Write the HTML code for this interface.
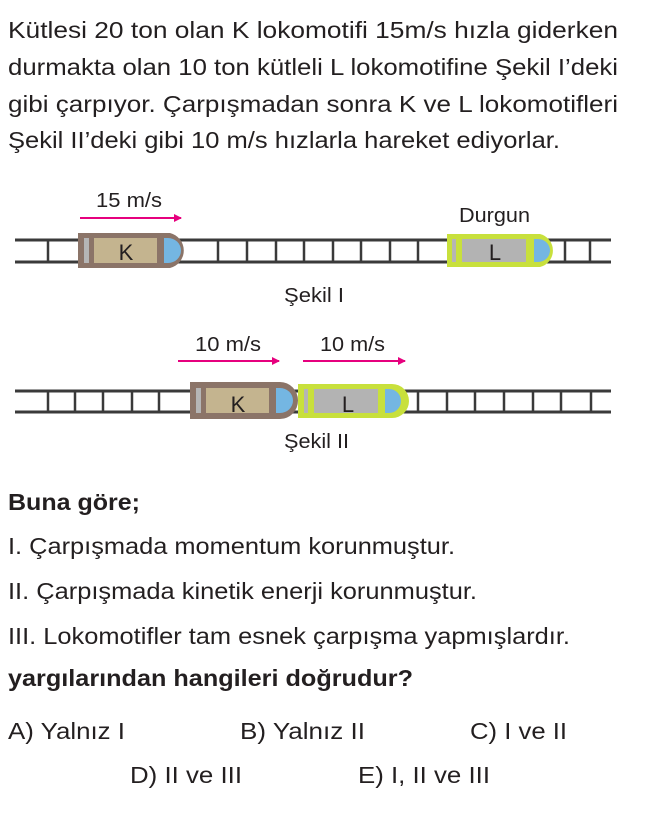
<!DOCTYPE html>
<html><head><meta charset="utf-8"><style>
html,body{margin:0;padding:0;background:#fff;}
svg{display:block}
text{font-family:"Liberation Sans",Arial,sans-serif;fill:#231f20;}
</style></head><body>
<svg width="654" height="815" viewBox="0 0 654 815" xmlns="http://www.w3.org/2000/svg">
<defs>
<marker id="ar" markerWidth="8" markerHeight="8" refX="7" refY="4" orient="auto" markerUnits="userSpaceOnUse">
<path d="M0,0 L8,4 L0,8 Z" fill="#e6007e"/></marker>
</defs>
<g font-size="23">
<text x="8" y="38" textLength="610" lengthAdjust="spacingAndGlyphs">Kütlesi 20 ton olan K lokomotifi 15m/s hızla giderken</text>
<text x="8" y="75" textLength="610" lengthAdjust="spacingAndGlyphs">durmakta olan 10 ton kütleli L lokomotifine Şekil I’deki</text>
<text x="8" y="112" textLength="610" lengthAdjust="spacingAndGlyphs">gibi çarpıyor. Çarpışmadan sonra K ve L lokomotifleri</text>
<text x="8" y="148" textLength="552" lengthAdjust="spacingAndGlyphs">Şekil II’deki gibi 10 m/s hızlarla hareket ediyorlar.</text>
</g>

<g stroke="#3a3a3a" stroke-width="3">
<line x1="15" y1="240" x2="611" y2="240"/><line x1="15" y1="262" x2="611" y2="262"/>
</g>
<g stroke="#3a3a3a" stroke-width="2.5">
<line x1="48" y1="240" x2="48" y2="262"/>
<line x1="218" y1="240" x2="218" y2="262"/><line x1="247" y1="240" x2="247" y2="262"/>
<line x1="276" y1="240" x2="276" y2="262"/><line x1="304" y1="240" x2="304" y2="262"/>
<line x1="333" y1="240" x2="333" y2="262"/><line x1="361" y1="240" x2="361" y2="262"/>
<line x1="390" y1="240" x2="390" y2="262"/><line x1="418" y1="240" x2="418" y2="262"/>
<line x1="565" y1="240" x2="565" y2="262"/><line x1="590" y1="240" x2="590" y2="262"/>
</g>
<path d="M78,233 H170 A18,18 0 0 1 170,268 H78 Z" fill="#8b7468"/>
<rect x="84" y="238" width="5" height="25" fill="#b5b5b5"/>
<rect x="94" y="238" width="63" height="25" fill="#c4b48f"/>
<path d="M164,238 H168 A13,12.5 0 0 1 168,263 H164 Z" fill="#74b6e2"/>
<text x="126" y="260" font-size="22" text-anchor="middle">K</text>
<path d="M447,234 H540 A17,17 0 0 1 540,267 H447 Z" fill="#c8e03c"/>
<rect x="452" y="239" width="4" height="23" fill="#b5b5b5"/>
<rect x="462" y="239" width="64" height="23" fill="#b3b3b3"/>
<path d="M534,239 H538 A12,11.5 0 0 1 538,262 H534 Z" fill="#74b6e2"/>
<text x="495" y="260" font-size="22" text-anchor="middle">L</text>
<line x1="80" y1="218" x2="181" y2="218" stroke="#e6007e" stroke-width="2" marker-end="url(#ar)"/>
<text x="96" y="207" font-size="20" textLength="66" lengthAdjust="spacingAndGlyphs">15 m/s</text>
<text x="459" y="222" font-size="20" textLength="71" lengthAdjust="spacingAndGlyphs">Durgun</text>
<text x="284" y="302" font-size="20" textLength="60" lengthAdjust="spacingAndGlyphs">Şekil I</text>

<g stroke="#3a3a3a" stroke-width="3">
<line x1="15" y1="391" x2="611" y2="391"/><line x1="15" y1="412" x2="611" y2="412"/>
</g>
<g stroke="#3a3a3a" stroke-width="2.5">
<line x1="48" y1="391" x2="48" y2="412"/><line x1="75" y1="391" x2="75" y2="412"/>
<line x1="103" y1="391" x2="103" y2="412"/><line x1="132" y1="391" x2="132" y2="412"/>
<line x1="159" y1="391" x2="159" y2="412"/>
<line x1="418" y1="391" x2="418" y2="412"/><line x1="447" y1="391" x2="447" y2="412"/>
<line x1="475" y1="391" x2="475" y2="412"/><line x1="504" y1="391" x2="504" y2="412"/>
<line x1="533" y1="391" x2="533" y2="412"/><line x1="561" y1="391" x2="561" y2="412"/>
<line x1="591" y1="391" x2="591" y2="412"/>
</g>
<path d="M190,382 H280 A18,18.5 0 0 1 280,419 H190 Z" fill="#8b7468"/>
<rect x="196" y="388" width="5" height="25" fill="#b5b5b5"/>
<rect x="206" y="388" width="63" height="25" fill="#c4b48f"/>
<path d="M276,388 H280 A13,12.5 0 0 1 280,413 H276 Z" fill="#74b6e2"/>
<text x="238" y="412" font-size="22" text-anchor="middle">K</text>
<path d="M298,384 H392 A17,17 0 0 1 392,418 H298 Z" fill="#c8e03c"/>
<rect x="304" y="389" width="4" height="24" fill="#b5b5b5"/>
<rect x="314" y="389" width="64" height="24" fill="#b3b3b3"/>
<path d="M385,389 H389 A12,12 0 0 1 389,413 H385 Z" fill="#74b6e2"/>
<text x="348" y="412" font-size="22" text-anchor="middle">L</text>
<line x1="178" y1="361" x2="279" y2="361" stroke="#e6007e" stroke-width="2" marker-end="url(#ar)"/>
<line x1="303" y1="361" x2="405" y2="361" stroke="#e6007e" stroke-width="2" marker-end="url(#ar)"/>
<text x="195" y="351" font-size="20" textLength="66" lengthAdjust="spacingAndGlyphs">10 m/s</text>
<text x="320" y="351" font-size="20" textLength="65" lengthAdjust="spacingAndGlyphs">10 m/s</text>
<text x="284" y="448" font-size="20" textLength="65" lengthAdjust="spacingAndGlyphs">Şekil II</text>

<g font-size="23">
<text x="8" y="510" font-weight="bold" textLength="132" lengthAdjust="spacingAndGlyphs">Buna göre;</text>
<text x="8" y="554" textLength="447" lengthAdjust="spacingAndGlyphs">I. Çarpışmada momentum korunmuştur.</text>
<text x="8" y="599" textLength="469" lengthAdjust="spacingAndGlyphs">II. Çarpışmada kinetik enerji korunmuştur.</text>
<text x="8" y="644" textLength="562" lengthAdjust="spacingAndGlyphs">III. Lokomotifler tam esnek çarpışma yapmışlardır.</text>
<text x="8" y="686" font-weight="bold" textLength="405" lengthAdjust="spacingAndGlyphs">yargılarından hangileri doğrudur?</text>
<text x="8" y="739" textLength="117" lengthAdjust="spacingAndGlyphs">A) Yalnız I</text>
<text x="240" y="739" textLength="125" lengthAdjust="spacingAndGlyphs">B) Yalnız II</text>
<text x="470" y="739" textLength="97" lengthAdjust="spacingAndGlyphs">C) I ve II</text>
<text x="130" y="783" textLength="112" lengthAdjust="spacingAndGlyphs">D) II ve III</text>
<text x="358" y="783" textLength="132" lengthAdjust="spacingAndGlyphs">E) I, II ve III</text>
</g>
</svg>
</body></html>
